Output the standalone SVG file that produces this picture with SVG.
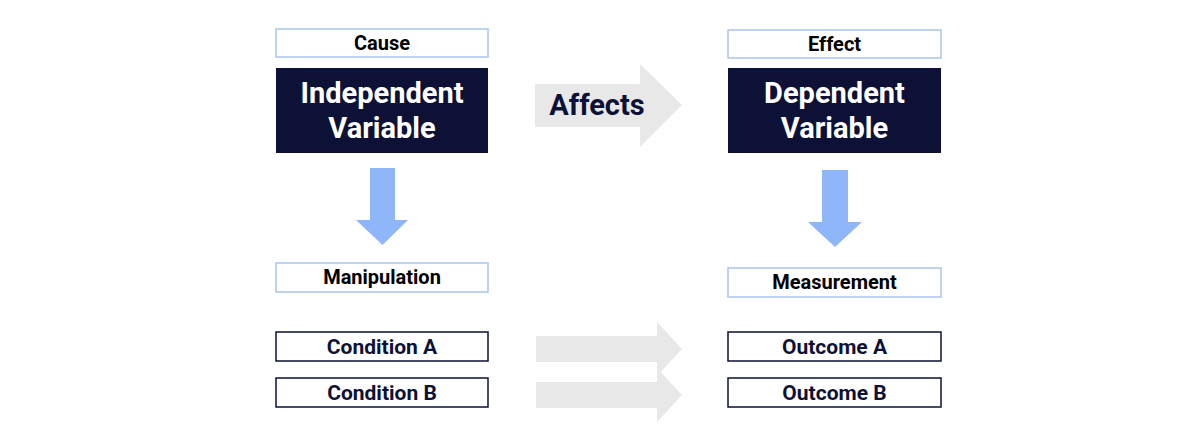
<svg xmlns="http://www.w3.org/2000/svg" width="1200" height="426" viewBox="0 0 1200 426">
<style>
.lb{fill:#fff;stroke:#a9c4ef;stroke-width:1.5}
.db{fill:#0d1136}
.ob{fill:#fff;stroke:#0d1136;stroke-width:1.5}
text{font-family:Roboto,"Liberation Sans",sans-serif;font-weight:bold;text-anchor:middle}
.t1{font-size:20px;fill:#000}
.t2{font-size:29px;fill:#fff}
.t3{font-size:21px;fill:#0d1136}
.blue{fill:#8fb6f8}
.grey{fill:#e8e8e8}
</style>
<rect width="1200" height="426" fill="#fff"/>
<g id="connectors">
<polygon class="blue" points="370,168 395,168 395,220 408,220 382.5,245 356,220 370,220"/>
<polygon class="blue" points="822,170 848,170 848,222 862,222 835,247 808,222 822,222"/>
<polygon class="grey" points="535,84 640,84 640,64 682,105 640,147 640,127 535,127"/>
<polygon class="grey" points="536,336 657,336 657,322 682,349 657,376 657,362 536,362"/>
<polygon class="grey" points="536,382 657,382 657,368 682,395 657,422 657,408 536,408"/>
<text class="t3" x="597" y="115" style="font-size:29px">Affects</text>
</g>
<g id="cause"><rect class="lb" x="276" y="29" width="212" height="28"/><text class="t1" x="382" y="50">Cause</text></g>
<g id="iv"><rect class="db" x="276" y="68" width="212" height="85"/><text class="t2" x="382" y="103">Independent</text><text class="t2" x="382" y="138">Variable</text></g>
<g id="effect"><rect class="lb" x="728" y="30" width="213" height="28"/><text class="t1" x="834.5" y="51">Effect</text></g>
<g id="dv"><rect class="db" x="728" y="68" width="213" height="85"/><text class="t2" x="834.5" y="103">Dependent</text><text class="t2" x="834.5" y="138">Variable</text></g>
<g id="manip"><rect class="lb" x="276" y="263" width="212" height="29"/><text class="t1" x="382" y="284">Manipulation</text></g>
<g id="meas"><rect class="lb" x="728" y="268" width="213" height="29"/><text class="t1" x="834.5" y="289">Measurement</text></g>
<g id="condA"><rect class="ob" x="276" y="332" width="212" height="29"/><text class="t3" x="382" y="354">Condition A</text></g>
<g id="condB"><rect class="ob" x="276" y="378" width="212" height="29"/><text class="t3" x="382" y="400">Condition B</text></g>
<g id="outA"><rect class="ob" x="728" y="332" width="213" height="29"/><text class="t3" x="834.5" y="354">Outcome A</text></g>
<g id="outB"><rect class="ob" x="728" y="378" width="213" height="29"/><text class="t3" x="834.5" y="400">Outcome B</text></g>
</svg>
